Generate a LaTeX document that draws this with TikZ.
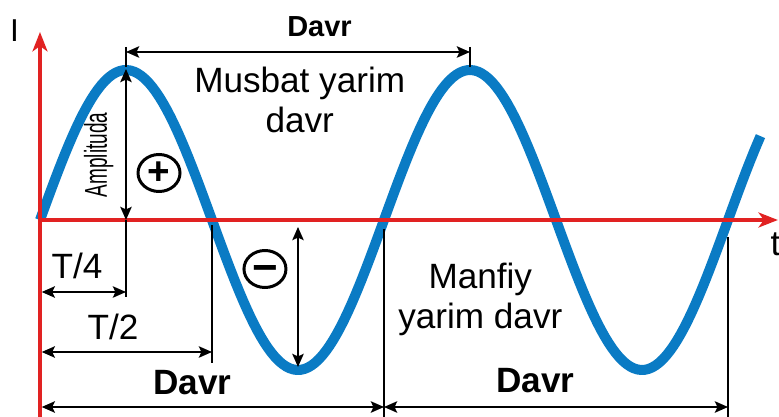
\documentclass[tikz,border=0pt]{standalone}
\usepackage{fontspec}
\setmainfont{Liberation Sans}
\definecolor{tokblau}{HTML}{0A7BC4}
\definecolor{achsrot}{HTML}{E12222}
\usetikzlibrary{arrows.meta, shapes.geometric}

\begin{document}
\begin{tikzpicture}[x=1.72cm, y=1cm,
    dim/.style={{Stealth[length=7.5pt,width=6.5pt,inset=1.5pt]}-{Stealth[length=7.5pt,width=6.5pt,inset=1.5pt]}, line width=1.1pt},
    txt/.style={font=\fontsize{20}{22.7}\selectfont, align=center, inner sep=0pt},
    davr/.style={font=\fontsize{20}{24}\selectfont\bfseries, inner sep=0pt},
    sign/.style={draw, ellipse, line width=1.7pt, minimum width=0.84cm, minimum height=0.74cm, inner sep=0pt, font=\fontsize{22}{24}\selectfont\bfseries}]
    \useasboundingbox (-0.465,-3.92) rectangle (8.593,4.4);
    % sinusoida
    \draw[tokblau, line width=5.7pt, domain=0:8.38, samples=200] plot (\x, {3*sin(90*\x)});
    % o'qlar
    \draw[achsrot, line width=2.8pt, -{Stealth[length=11pt,width=8.5pt,inset=3pt]}] (0,-4.2) -- (0,3.76);
    \draw[achsrot, line width=2.8pt, -{Stealth[length=11pt,width=8.5pt,inset=3pt]}] (0,0) -- (8.58,0);
    \node[txt, font=\fontsize{18}{20}\selectfont] (I) at (-0.297,3.78) {I};
    \node[txt, anchor=north west] (t) at (8.49,-0.24) {t};
    % chiziqlar
    \foreach \x/\ya/\yb in {1/3.46/3.06, 5/3.46/3.06, 1/0/-1.54, 2/-0.1/-2.86, 4/-0.18/-4.2, 8/-0.34/-4.2}
      \draw[line width=1.1pt] (\x,\ya) -- (\x,\yb);
    \coordinate (pk) at (1,3.02);
    \coordinate (pk0) at (1,0);
    \coordinate (tr0) at (3,-0.14);
    \coordinate (tr) at (3,-2.94);
    \coordinate (top1) at (1,3.36);
    \coordinate (top2) at (5,3.36);
    \coordinate (q0) at (0.02,-1.44);
    \coordinate (q1) at (1,-1.44);
    \coordinate (h0) at (0.02,-2.64);
    \coordinate (h1) at (2,-2.64);
    \coordinate (p0) at (0.02,-3.74);
    \coordinate (p1) at (4,-3.74);
    \coordinate (p2) at (8,-3.74);
    \draw[dim] (pk) -- (pk0);
    \draw[dim] (tr0) -- (tr);
    \draw[dim] (top1) -- (top2);
    \draw[dim] (q0) -- (q1);
    \draw[dim] (h0) -- (h1);
    \draw[dim] (p0) -- (p1);
    \draw[dim] (p1) -- (p2);
    % yozuvlar
    \node[davr, font=\fontsize{16.5}{18}\selectfont\bfseries] (davr0) at (3.25,3.87) {Davr};
    \node[txt] (musbat) at (3.02,2.4) {Musbat yarim\\davr};
    \node[txt] (manfiy) at (5.12,-1.58) {Manfiy\\yarim davr};
    \node[txt] (t4) at (0.43,-0.92) {T/4};
    \node[txt] (t2) at (0.85,-2.14) {T/2};
    \node[davr] (davr1) at (1.77,-3.26) {Davr};
    \node[davr] (davr2) at (5.76,-3.22) {Davr};
    \node[rotate=90, anchor=base, inner sep=0pt, font=\fontsize{18}{20}\selectfont] (ampl) at (0.779,1.3) {\scalebox{0.6}[1]{Amplituda}};
    \node[sign] (plus) at (1.384,0.94) {+};
    \node[sign, font=\fontsize{25}{26}\selectfont\bfseries, text height=0pt, text depth=0pt] (minus) at (2.616,-0.98) {\raisebox{-0.3em}{−}};
\end{tikzpicture}
\end{document}
